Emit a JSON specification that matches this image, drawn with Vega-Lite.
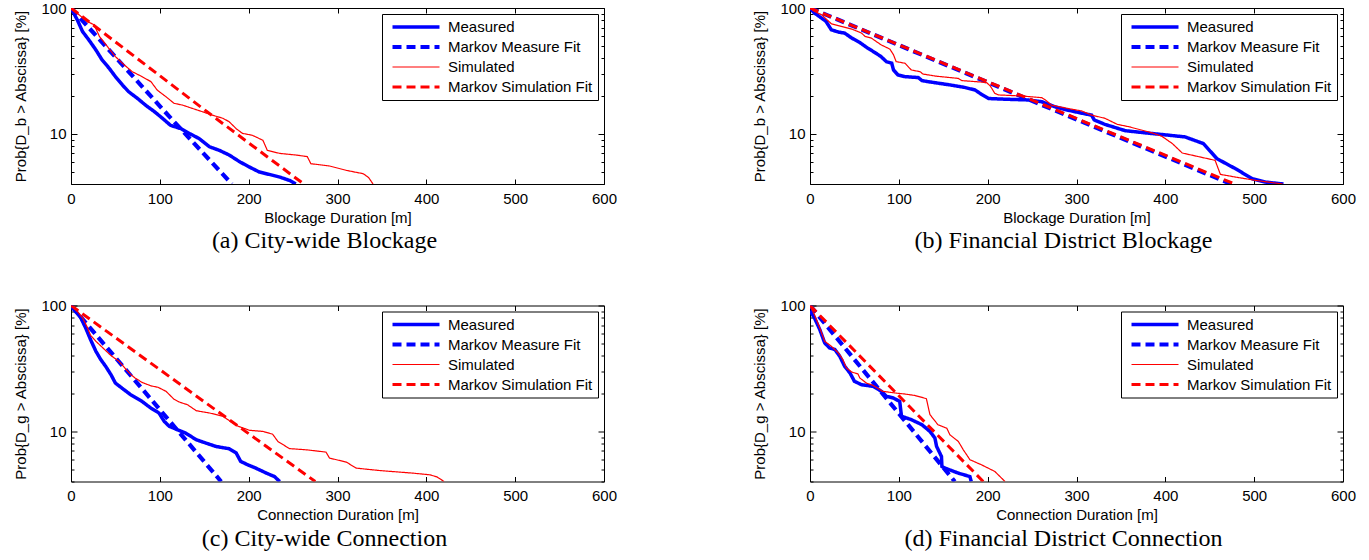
{
"$schema": "https://vega.github.io/schema/vega-lite/v6.json",
"background": "white",
"padding": {"left": 13, "top": 0, "right": 0, "bottom": 0},
"columns": 2,
"spacing": {"column": 134, "row": 43.5},
"resolve": {"scale": {"color": "independent", "strokeDash": "independent", "strokeWidth": "independent"}},
"datasets": {
"a": [
{"s":"Measured","x":0,"y":100},{"s":"Measured","x":7,"y":80.7},{"s":"Measured","x":13,"y":65},{"s":"Measured","x":20,"y":55.9},{"s":"Measured","x":28,"y":46.5},{"s":"Measured","x":35,"y":38.7},{"s":"Measured","x":43,"y":33.2},{"s":"Measured","x":50,"y":28.5},{"s":"Measured","x":58,"y":24.4},{"s":"Measured","x":65,"y":21.6},{"s":"Measured","x":75,"y":19.1},{"s":"Measured","x":84,"y":16.9},{"s":"Measured","x":94,"y":15.0},{"s":"Measured","x":103,"y":13.3},{"s":"Measured","x":112,"y":11.7},{"s":"Measured","x":124,"y":11.0},{"s":"Measured","x":133,"y":10.1},{"s":"Measured","x":144,"y":9.2},{"s":"Measured","x":156,"y":7.9},{"s":"Measured","x":167,"y":7.4},{"s":"Measured","x":178,"y":6.8},{"s":"Measured","x":190,"y":6.0},{"s":"Measured","x":201,"y":5.45},{"s":"Measured","x":212,"y":4.98},{"s":"Measured","x":223,"y":4.77},{"s":"Measured","x":235,"y":4.54},{"s":"Measured","x":246,"y":4.27},{"s":"Measured","x":253,"y":4.0},
{"s":"Markov Measure Fit","x":0,"y":100},{"s":"Markov Measure Fit","x":110,"y":13.9},{"s":"Markov Measure Fit","x":181,"y":4},
{"s":"Simulated","x":0,"y":100},{"s":"Simulated","x":9,"y":88.4},{"s":"Simulated","x":18,"y":78.3},{"s":"Simulated","x":26,"y":73.6},{"s":"Simulated","x":32,"y":59.5},{"s":"Simulated","x":41,"y":49.4},{"s":"Simulated","x":50,"y":41.1},{"s":"Simulated","x":60,"y":35.3},{"s":"Simulated","x":69,"y":31.2},{"s":"Simulated","x":80,"y":28.5},{"s":"Simulated","x":90,"y":26.0},{"s":"Simulated","x":97,"y":22.3},{"s":"Simulated","x":107,"y":19.7},{"s":"Simulated","x":116,"y":17.5},{"s":"Simulated","x":126,"y":16.9},{"s":"Simulated","x":137,"y":15.9},{"s":"Simulated","x":148,"y":15.0},{"s":"Simulated","x":159,"y":14.1},{"s":"Simulated","x":171,"y":13.3},{"s":"Simulated","x":178,"y":12.5},{"s":"Simulated","x":186,"y":11.0},{"s":"Simulated","x":193,"y":10.1},{"s":"Simulated","x":204,"y":9.76},{"s":"Simulated","x":216,"y":8.9},{"s":"Simulated","x":221,"y":7.4},{"s":"Simulated","x":235,"y":7.0},{"s":"Simulated","x":253,"y":6.8},{"s":"Simulated","x":266,"y":6.6},{"s":"Simulated","x":270,"y":5.8},{"s":"Simulated","x":291,"y":5.56},{"s":"Simulated","x":310,"y":5.13},{"s":"Simulated","x":329,"y":4.83},{"s":"Simulated","x":335,"y":4.5},{"s":"Simulated","x":340,"y":4.0},
{"s":"Markov Simulation Fit","x":0,"y":100},{"s":"Markov Simulation Fit","x":152,"y":15.2},{"s":"Markov Simulation Fit","x":262,"y":4}
],
"b": [
{"s":"Measured","x":0,"y":100},{"s":"Measured","x":5,"y":91.2},{"s":"Measured","x":13,"y":83.2},{"s":"Measured","x":18,"y":78.3},{"s":"Measured","x":24,"y":67.1},{"s":"Measured","x":32,"y":64.4},{"s":"Measured","x":39,"y":63.2},{"s":"Measured","x":47,"y":57.7},{"s":"Measured","x":56,"y":53.2},{"s":"Measured","x":65,"y":48.0},{"s":"Measured","x":73,"y":44.3},{"s":"Measured","x":80,"y":41.1},{"s":"Measured","x":86,"y":37.5},{"s":"Measured","x":92,"y":36.4},{"s":"Measured","x":94,"y":32.2},{"s":"Measured","x":99,"y":29.4},{"s":"Measured","x":107,"y":28.5},{"s":"Measured","x":122,"y":28.0},{"s":"Measured","x":126,"y":26.5},{"s":"Measured","x":133,"y":26.0},{"s":"Measured","x":159,"y":24.4},{"s":"Measured","x":174,"y":23.4},{"s":"Measured","x":186,"y":22.3},{"s":"Measured","x":193,"y":20.6},{"s":"Measured","x":201,"y":19.1},{"s":"Measured","x":216,"y":18.9},{"s":"Measured","x":246,"y":18.6},{"s":"Measured","x":261,"y":18.0},{"s":"Measured","x":276,"y":16.4},{"s":"Measured","x":291,"y":15.4},{"s":"Measured","x":306,"y":14.6},{"s":"Measured","x":317,"y":14.1},{"s":"Measured","x":320,"y":12.9},{"s":"Measured","x":332,"y":11.9},{"s":"Measured","x":355,"y":10.6},{"s":"Measured","x":377,"y":10.2},{"s":"Measured","x":396,"y":9.89},{"s":"Measured","x":422,"y":9.47},{"s":"Measured","x":443,"y":8.37},{"s":"Measured","x":458,"y":6.36},{"s":"Measured","x":479,"y":5.29},{"s":"Measured","x":498,"y":4.4},{"s":"Measured","x":513,"y":4.14},{"s":"Measured","x":533,"y":4.0},
{"s":"Markov Measure Fit","x":0,"y":100},{"s":"Markov Measure Fit","x":200,"y":25.7},{"s":"Markov Measure Fit","x":474,"y":4},
{"s":"Simulated","x":0,"y":100},{"s":"Simulated","x":5,"y":94},{"s":"Simulated","x":13,"y":88.4},{"s":"Simulated","x":24,"y":75},{"s":"Simulated","x":35,"y":71.4},{"s":"Simulated","x":47,"y":68},{"s":"Simulated","x":58,"y":63.2},{"s":"Simulated","x":62,"y":59.5},{"s":"Simulated","x":69,"y":57.7},{"s":"Simulated","x":80,"y":51},{"s":"Simulated","x":90,"y":47.1},{"s":"Simulated","x":94,"y":42.5},{"s":"Simulated","x":97,"y":37.5},{"s":"Simulated","x":107,"y":36.4},{"s":"Simulated","x":114,"y":32.2},{"s":"Simulated","x":124,"y":31.2},{"s":"Simulated","x":127,"y":29.9},{"s":"Simulated","x":141,"y":28.8},{"s":"Simulated","x":167,"y":27.6},{"s":"Simulated","x":171,"y":26.5},{"s":"Simulated","x":193,"y":25.8},{"s":"Simulated","x":199,"y":25.5},{"s":"Simulated","x":203,"y":24.0},{"s":"Simulated","x":208,"y":21.0},{"s":"Simulated","x":212,"y":20.4},{"s":"Simulated","x":238,"y":20.0},{"s":"Simulated","x":261,"y":19.4},{"s":"Simulated","x":265,"y":18.6},{"s":"Simulated","x":272,"y":16.9},{"s":"Simulated","x":291,"y":15.9},{"s":"Simulated","x":306,"y":15.2},{"s":"Simulated","x":317,"y":14.1},{"s":"Simulated","x":332,"y":13.3},{"s":"Simulated","x":346,"y":11.9},{"s":"Simulated","x":359,"y":11.4},{"s":"Simulated","x":385,"y":10.2},{"s":"Simulated","x":396,"y":9.58},{"s":"Simulated","x":408,"y":8.37},{"s":"Simulated","x":419,"y":7.05},{"s":"Simulated","x":436,"y":6.63},{"s":"Simulated","x":456,"y":6.17},{"s":"Simulated","x":462,"y":4.77},{"s":"Simulated","x":479,"y":4.54},{"s":"Simulated","x":502,"y":4.27},{"s":"Simulated","x":532,"y":4.0},
{"s":"Markov Simulation Fit","x":0,"y":100},{"s":"Markov Simulation Fit","x":200,"y":26.0},{"s":"Markov Simulation Fit","x":478,"y":4}
],
"c": [
{"s":"Measured","x":0,"y":100},{"s":"Measured","x":5,"y":90.1},{"s":"Measured","x":11,"y":79.8},{"s":"Measured","x":16.5,"y":66.4},{"s":"Measured","x":22,"y":53.6},{"s":"Measured","x":28,"y":43.3},{"s":"Measured","x":33.5,"y":37.2},{"s":"Measured","x":39,"y":32.9},{"s":"Measured","x":45,"y":28.2},{"s":"Measured","x":50,"y":24.2},{"s":"Measured","x":58,"y":21.9},{"s":"Measured","x":67,"y":19.6},{"s":"Measured","x":79,"y":17.5},{"s":"Measured","x":90,"y":15.3},{"s":"Measured","x":99,"y":14.0},{"s":"Measured","x":105,"y":12.0},{"s":"Measured","x":110.5,"y":11.0},{"s":"Measured","x":120,"y":10.3},{"s":"Measured","x":129,"y":9.7},{"s":"Measured","x":141,"y":8.59},{"s":"Measured","x":152,"y":8.07},{"s":"Measured","x":163,"y":7.6},{"s":"Measured","x":178,"y":7.28},{"s":"Measured","x":186,"y":6.73},{"s":"Measured","x":191,"y":5.77},{"s":"Measured","x":199,"y":5.43},{"s":"Measured","x":208,"y":5.11},{"s":"Measured","x":220,"y":4.66},{"s":"Measured","x":229,"y":4.38},{"s":"Measured","x":235,"y":4.0},
{"s":"Markov Measure Fit","x":0,"y":100},{"s":"Markov Measure Fit","x":100,"y":14.9},{"s":"Markov Measure Fit","x":169,"y":4},
{"s":"Simulated","x":0,"y":100},{"s":"Simulated","x":7,"y":90},{"s":"Simulated","x":13,"y":80},{"s":"Simulated","x":18,"y":68},{"s":"Simulated","x":22,"y":58},{"s":"Simulated","x":28,"y":52},{"s":"Simulated","x":36,"y":46},{"s":"Simulated","x":45,"y":40},{"s":"Simulated","x":54,"y":36.1},{"s":"Simulated","x":62,"y":31},{"s":"Simulated","x":68,"y":28},{"s":"Simulated","x":72,"y":26.6},{"s":"Simulated","x":80,"y":24.5},{"s":"Simulated","x":90,"y":23},{"s":"Simulated","x":98,"y":22.4},{"s":"Simulated","x":107,"y":20.8},{"s":"Simulated","x":116,"y":18},{"s":"Simulated","x":122,"y":17.1},{"s":"Simulated","x":131,"y":16.3},{"s":"Simulated","x":141,"y":14.6},{"s":"Simulated","x":156,"y":14.0},{"s":"Simulated","x":171,"y":13.2},{"s":"Simulated","x":178,"y":12.2},{"s":"Simulated","x":188,"y":11},{"s":"Simulated","x":201,"y":10.2},{"s":"Simulated","x":216,"y":10.0},{"s":"Simulated","x":227,"y":9.5},{"s":"Simulated","x":233,"y":8.3},{"s":"Simulated","x":246,"y":7.3},{"s":"Simulated","x":265,"y":7.14},{"s":"Simulated","x":287,"y":6.85},{"s":"Simulated","x":291,"y":6.14},{"s":"Simulated","x":310,"y":5.7},{"s":"Simulated","x":321,"y":5.11},{"s":"Simulated","x":347,"y":4.89},{"s":"Simulated","x":385,"y":4.66},{"s":"Simulated","x":404,"y":4.52},{"s":"Simulated","x":412,"y":4.35},{"s":"Simulated","x":420,"y":4.0},
{"s":"Markov Simulation Fit","x":0,"y":100},{"s":"Markov Simulation Fit","x":150,"y":17.2},{"s":"Markov Simulation Fit","x":275,"y":4}
],
"d": [
{"s":"Measured","x":0,"y":91},{"s":"Measured","x":5,"y":79.8},{"s":"Measured","x":11,"y":64.4},{"s":"Measured","x":16.5,"y":50.5},{"s":"Measured","x":22,"y":46},{"s":"Measured","x":28,"y":44.7},{"s":"Measured","x":33.5,"y":39.5},{"s":"Measured","x":39,"y":32.9},{"s":"Measured","x":45,"y":29.1},{"s":"Measured","x":50,"y":25},{"s":"Measured","x":58,"y":23.5},{"s":"Measured","x":71,"y":22.8},{"s":"Measured","x":80.5,"y":20.8},{"s":"Measured","x":86,"y":19},{"s":"Measured","x":94,"y":18.4},{"s":"Measured","x":101,"y":17.3},{"s":"Measured","x":103,"y":13.2},{"s":"Measured","x":114,"y":12.4},{"s":"Measured","x":126,"y":11.3},{"s":"Measured","x":135,"y":10},{"s":"Measured","x":140.6,"y":8.85},{"s":"Measured","x":142.5,"y":7.6},{"s":"Measured","x":148,"y":6.32},{"s":"Measured","x":148.5,"y":5.26},{"s":"Measured","x":152,"y":5.11},{"s":"Measured","x":167,"y":4.66},{"s":"Measured","x":180,"y":4.38},{"s":"Measured","x":181.5,"y":4.0},
{"s":"Markov Measure Fit","x":0,"y":100},{"s":"Markov Measure Fit","x":80,"y":20.6},{"s":"Markov Measure Fit","x":163,"y":4},
{"s":"Simulated","x":0,"y":100},{"s":"Simulated","x":5,"y":84.8},{"s":"Simulated","x":11,"y":66.4},{"s":"Simulated","x":16.5,"y":52},{"s":"Simulated","x":24,"y":47.5},{"s":"Simulated","x":32,"y":42},{"s":"Simulated","x":37,"y":37.2},{"s":"Simulated","x":41,"y":31.9},{"s":"Simulated","x":47,"y":29.6},{"s":"Simulated","x":54,"y":28.6},{"s":"Simulated","x":56,"y":26.6},{"s":"Simulated","x":63.5,"y":24.2},{"s":"Simulated","x":71,"y":23.2},{"s":"Simulated","x":82,"y":20.8},{"s":"Simulated","x":95.5,"y":20.2},{"s":"Simulated","x":107,"y":19.8},{"s":"Simulated","x":118,"y":19.3},{"s":"Simulated","x":131,"y":18.2},{"s":"Simulated","x":135,"y":13.6},{"s":"Simulated","x":144,"y":11.3},{"s":"Simulated","x":154,"y":10.6},{"s":"Simulated","x":157.5,"y":9.4},{"s":"Simulated","x":167,"y":8.32},{"s":"Simulated","x":172.6,"y":7.14},{"s":"Simulated","x":180,"y":5.96},{"s":"Simulated","x":193,"y":5.43},{"s":"Simulated","x":208,"y":4.81},{"s":"Simulated","x":219.5,"y":4.0},
{"s":"Markov Simulation Fit","x":0,"y":100},{"s":"Markov Simulation Fit","x":100,"y":19.2},{"s":"Markov Simulation Fit","x":195,"y":4}
]
},
"concat": [
{"width": 533, "height": 176, "data": {"name": "a"},
 "title": {"text": "(a) City-wide Blockage", "orient": "bottom", "frame": "group", "dx": -13, "offset": 4},
 "layer": [
  {"mark": {"type": "line", "clip": true},
   "encoding": {
    "x": {"field": "x", "type": "quantitative", "scale": {"domain": [0, 600], "nice": false, "zero": false}, "axis": {"orient": "bottom", "title": "Blockage Duration [m]", "values": [0,100,200,300,400,500,600], "tickSize": -5, "labelPadding": 12, "titlePadding": 4, "labelFlush": false}},
    "y": {"field": "y", "type": "quantitative", "scale": {"type": "log", "domain": [4, 100], "nice": false}, "axis": {"orient": "left", "title": "Prob{D_b > Abscissa} [%]", "values": [10, 100], "format": "d", "tickSize": -6, "labelPadding": 11, "titlePadding": 12, "labelOverlap": false}},
    "color": {"field": "s", "type": "nominal", "scale": {"domain": ["Measured","Markov Measure Fit","Simulated","Markov Simulation Fit"], "range": ["#0000ff","#0000ff","#ff0000","#ff0000"]}, "legend": {"title": null}},
    "strokeDash": {"field": "s", "type": "nominal", "scale": {"domain": ["Measured","Markov Measure Fit","Simulated","Markov Simulation Fit"], "range": [[1,0],[9,5],[1,0],[9,5]]}, "legend": {"title": null}},
    "strokeWidth": {"field": "s", "type": "ordinal", "scale": {"type": "ordinal", "domain": ["Measured","Markov Measure Fit","Simulated","Markov Simulation Fit"], "range": [3.5,4.2,1.2,3]}, "legend": {"title": null}}
   }},
  {"mark": {"type": "line", "opacity": 0},
   "encoding": {
    "x": {"field": "x", "type": "quantitative", "axis": {"orient": "top", "title": null, "labels": false, "values": [0,100,200,300,400,500,600], "tickSize": -5}},
    "y": {"field": "y", "type": "quantitative", "axis": {"orient": "right", "title": null, "labels": false, "values": [10, 100], "tickSize": -6}},
    "detail": {"field": "s"}}},
  {"mark": {"type": "line", "opacity": 0},
   "encoding": {
    "x": {"field": "x", "type": "quantitative", "axis": null},
    "y": {"field": "y", "type": "quantitative", "axis": {"orient": "left", "title": null, "labels": false, "values": [4,5,6,7,8,9,20,30,40,50,60,70,80,90], "tickSize": -3}},
    "detail": {"field": "s"}}},
  {"mark": {"type": "line", "opacity": 0},
   "encoding": {
    "x": {"field": "x", "type": "quantitative", "axis": null},
    "y": {"field": "y", "type": "quantitative", "axis": {"orient": "right", "title": null, "labels": false, "values": [4,5,6,7,8,9,20,30,40,50,60,70,80,90], "tickSize": -3}},
    "detail": {"field": "s"}}}
 ],
 "resolve": {"axis": {"x": "independent", "y": "independent"}}
},
{"width": 533, "height": 176, "data": {"name": "b"},
 "title": {"text": "(b) Financial District Blockage", "orient": "bottom", "frame": "group", "dx": -13, "offset": 4},
 "layer": [
  {"mark": {"type": "line", "clip": true},
   "encoding": {
    "x": {"field": "x", "type": "quantitative", "scale": {"domain": [0, 600], "nice": false, "zero": false}, "axis": {"orient": "bottom", "title": "Blockage Duration [m]", "values": [0,100,200,300,400,500,600], "tickSize": -5, "labelPadding": 12, "titlePadding": 4, "labelFlush": false}},
    "y": {"field": "y", "type": "quantitative", "scale": {"type": "log", "domain": [4, 100], "nice": false}, "axis": {"orient": "left", "title": "Prob{D_b > Abscissa} [%]", "values": [10, 100], "format": "d", "tickSize": -6, "labelPadding": 11, "titlePadding": 12, "labelOverlap": false}},
    "color": {"field": "s", "type": "nominal", "scale": {"domain": ["Measured","Markov Measure Fit","Simulated","Markov Simulation Fit"], "range": ["#0000ff","#0000ff","#ff0000","#ff0000"]}, "legend": {"title": null}},
    "strokeDash": {"field": "s", "type": "nominal", "scale": {"domain": ["Measured","Markov Measure Fit","Simulated","Markov Simulation Fit"], "range": [[1,0],[9,5],[1,0],[9,5]]}, "legend": {"title": null}},
    "strokeWidth": {"field": "s", "type": "ordinal", "scale": {"type": "ordinal", "domain": ["Measured","Markov Measure Fit","Simulated","Markov Simulation Fit"], "range": [3.5,4.2,1.2,3]}, "legend": {"title": null}}
   }},
  {"mark": {"type": "line", "opacity": 0},
   "encoding": {
    "x": {"field": "x", "type": "quantitative", "axis": {"orient": "top", "title": null, "labels": false, "values": [0,100,200,300,400,500,600], "tickSize": -5}},
    "y": {"field": "y", "type": "quantitative", "axis": {"orient": "right", "title": null, "labels": false, "values": [10, 100], "tickSize": -6}},
    "detail": {"field": "s"}}},
  {"mark": {"type": "line", "opacity": 0},
   "encoding": {
    "x": {"field": "x", "type": "quantitative", "axis": null},
    "y": {"field": "y", "type": "quantitative", "axis": {"orient": "left", "title": null, "labels": false, "values": [4,5,6,7,8,9,20,30,40,50,60,70,80,90], "tickSize": -3}},
    "detail": {"field": "s"}}},
  {"mark": {"type": "line", "opacity": 0},
   "encoding": {
    "x": {"field": "x", "type": "quantitative", "axis": null},
    "y": {"field": "y", "type": "quantitative", "axis": {"orient": "right", "title": null, "labels": false, "values": [4,5,6,7,8,9,20,30,40,50,60,70,80,90], "tickSize": -3}},
    "detail": {"field": "s"}}}
 ],
 "resolve": {"axis": {"x": "independent", "y": "independent"}}
},
{"width": 533, "height": 176, "data": {"name": "c"},
 "title": {"text": "(c) City-wide Connection", "orient": "bottom", "frame": "group", "dx": -13, "offset": 4},
 "layer": [
  {"mark": {"type": "line", "clip": true},
   "encoding": {
    "x": {"field": "x", "type": "quantitative", "scale": {"domain": [0, 600], "nice": false, "zero": false}, "axis": {"orient": "bottom", "title": "Connection Duration [m]", "values": [0,100,200,300,400,500,600], "tickSize": -5, "labelPadding": 12, "titlePadding": 4, "labelFlush": false}},
    "y": {"field": "y", "type": "quantitative", "scale": {"type": "log", "domain": [4, 100], "nice": false}, "axis": {"orient": "left", "title": "Prob{D_g > Abscissa} [%]", "values": [10, 100], "format": "d", "tickSize": -6, "labelPadding": 11, "titlePadding": 12, "labelOverlap": false}},
    "color": {"field": "s", "type": "nominal", "scale": {"domain": ["Measured","Markov Measure Fit","Simulated","Markov Simulation Fit"], "range": ["#0000ff","#0000ff","#ff0000","#ff0000"]}, "legend": {"title": null}},
    "strokeDash": {"field": "s", "type": "nominal", "scale": {"domain": ["Measured","Markov Measure Fit","Simulated","Markov Simulation Fit"], "range": [[1,0],[9,5],[1,0],[9,5]]}, "legend": {"title": null}},
    "strokeWidth": {"field": "s", "type": "ordinal", "scale": {"type": "ordinal", "domain": ["Measured","Markov Measure Fit","Simulated","Markov Simulation Fit"], "range": [3.5,4.2,1.2,3]}, "legend": {"title": null}}
   }},
  {"mark": {"type": "line", "opacity": 0},
   "encoding": {
    "x": {"field": "x", "type": "quantitative", "axis": {"orient": "top", "title": null, "labels": false, "values": [0,100,200,300,400,500,600], "tickSize": -5}},
    "y": {"field": "y", "type": "quantitative", "axis": {"orient": "right", "title": null, "labels": false, "values": [10, 100], "tickSize": -6}},
    "detail": {"field": "s"}}},
  {"mark": {"type": "line", "opacity": 0},
   "encoding": {
    "x": {"field": "x", "type": "quantitative", "axis": null},
    "y": {"field": "y", "type": "quantitative", "axis": {"orient": "left", "title": null, "labels": false, "values": [4,5,6,7,8,9,20,30,40,50,60,70,80,90], "tickSize": -3}},
    "detail": {"field": "s"}}},
  {"mark": {"type": "line", "opacity": 0},
   "encoding": {
    "x": {"field": "x", "type": "quantitative", "axis": null},
    "y": {"field": "y", "type": "quantitative", "axis": {"orient": "right", "title": null, "labels": false, "values": [4,5,6,7,8,9,20,30,40,50,60,70,80,90], "tickSize": -3}},
    "detail": {"field": "s"}}}
 ],
 "resolve": {"axis": {"x": "independent", "y": "independent"}}
},
{"width": 533, "height": 176, "data": {"name": "d"},
 "title": {"text": "(d) Financial District Connection", "orient": "bottom", "frame": "group", "dx": -13, "offset": 4},
 "layer": [
  {"mark": {"type": "line", "clip": true},
   "encoding": {
    "x": {"field": "x", "type": "quantitative", "scale": {"domain": [0, 600], "nice": false, "zero": false}, "axis": {"orient": "bottom", "title": "Connection Duration [m]", "values": [0,100,200,300,400,500,600], "tickSize": -5, "labelPadding": 12, "titlePadding": 4, "labelFlush": false}},
    "y": {"field": "y", "type": "quantitative", "scale": {"type": "log", "domain": [4, 100], "nice": false}, "axis": {"orient": "left", "title": "Prob{D_g > Abscissa} [%]", "values": [10, 100], "format": "d", "tickSize": -6, "labelPadding": 11, "titlePadding": 12, "labelOverlap": false}},
    "color": {"field": "s", "type": "nominal", "scale": {"domain": ["Measured","Markov Measure Fit","Simulated","Markov Simulation Fit"], "range": ["#0000ff","#0000ff","#ff0000","#ff0000"]}, "legend": {"title": null}},
    "strokeDash": {"field": "s", "type": "nominal", "scale": {"domain": ["Measured","Markov Measure Fit","Simulated","Markov Simulation Fit"], "range": [[1,0],[9,5],[1,0],[9,5]]}, "legend": {"title": null}},
    "strokeWidth": {"field": "s", "type": "ordinal", "scale": {"type": "ordinal", "domain": ["Measured","Markov Measure Fit","Simulated","Markov Simulation Fit"], "range": [3.5,4.2,1.2,3]}, "legend": {"title": null}}
   }},
  {"mark": {"type": "line", "opacity": 0},
   "encoding": {
    "x": {"field": "x", "type": "quantitative", "axis": {"orient": "top", "title": null, "labels": false, "values": [0,100,200,300,400,500,600], "tickSize": -5}},
    "y": {"field": "y", "type": "quantitative", "axis": {"orient": "right", "title": null, "labels": false, "values": [10, 100], "tickSize": -6}},
    "detail": {"field": "s"}}},
  {"mark": {"type": "line", "opacity": 0},
   "encoding": {
    "x": {"field": "x", "type": "quantitative", "axis": null},
    "y": {"field": "y", "type": "quantitative", "axis": {"orient": "left", "title": null, "labels": false, "values": [4,5,6,7,8,9,20,30,40,50,60,70,80,90], "tickSize": -3}},
    "detail": {"field": "s"}}},
  {"mark": {"type": "line", "opacity": 0},
   "encoding": {
    "x": {"field": "x", "type": "quantitative", "axis": null},
    "y": {"field": "y", "type": "quantitative", "axis": {"orient": "right", "title": null, "labels": false, "values": [4,5,6,7,8,9,20,30,40,50,60,70,80,90], "tickSize": -3}},
    "detail": {"field": "s"}}}
 ],
 "resolve": {"axis": {"x": "independent", "y": "independent"}}
}
],
"config": {
 "font": "Liberation Sans",
 "view": {"stroke": "black", "strokeWidth": 1},
 "axis": {"grid": false, "domain": false, "tickColor": "black", "tickWidth": 1, "labelFont": "Liberation Sans", "labelFontSize": 15, "labelColor": "black", "titleFont": "Liberation Sans", "titleFontSize": 15, "titleFontWeight": "normal", "titleColor": "black"},
 "title": {"font": "Liberation Serif", "fontSize": 24, "fontWeight": "normal", "color": "black"},
 "legend": {"orient": "top-right", "offset": 6, "padding": 5, "strokeColor": "black", "strokeWidth": 1, "fillColor": "white", "symbolType": "stroke", "symbolSize": 2209, "labelFont": "Liberation Sans", "labelFontSize": 15, "labelColor": "black", "clipHeight": 16, "rowPadding": 4, "labelOffset": 6, "symbolOffset": 3},
 "line": {"strokeCap": "butt"}
}
}
